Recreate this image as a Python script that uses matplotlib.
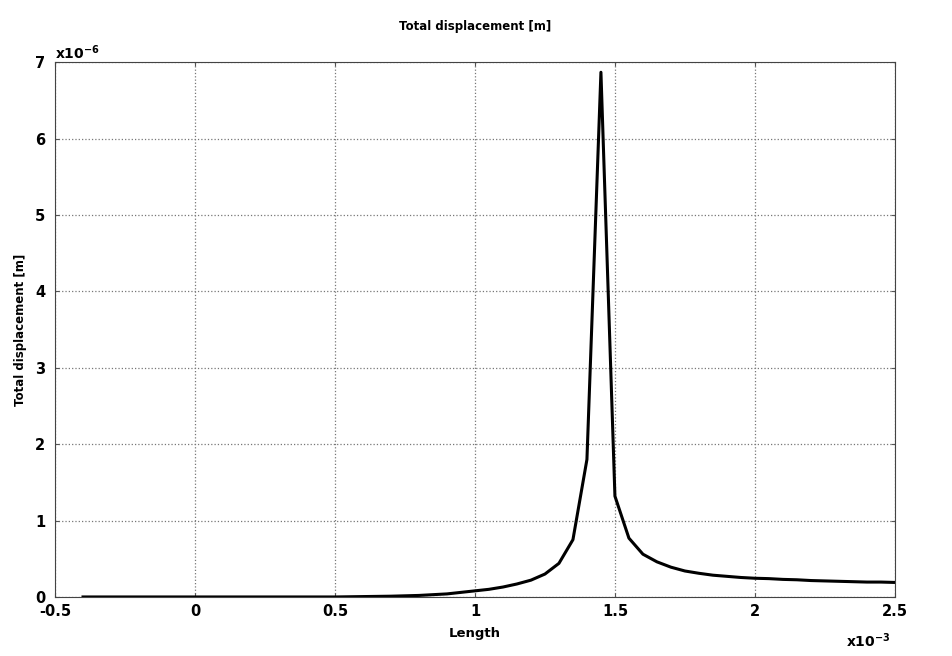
"""
Total displacement along the length (COMSOL-style line plot).
"""

import matplotlib.pyplot as plt
from matplotlib.ticker import FormatStrFormatter

# Length [x1e-3 m]
x = [-0.4, 0.0, 0.5, 0.6, 0.7, 0.8, 0.9, 0.95, 1.0, 1.05, 1.1, 1.15, 1.2, 1.25,
     1.3, 1.35, 1.4, 1.45, 1.5, 1.55, 1.6, 1.65, 1.7, 1.75, 1.8, 1.85, 1.9,
     1.95, 2.0, 2.05, 2.1, 2.15, 2.2, 2.25, 2.3, 2.35, 2.4, 2.45, 2.5]

# Total displacement [x1e-6 m]
y = [0.0, 0.0, 0.0, 0.005, 0.01, 0.02, 0.04, 0.06, 0.08, 0.1, 0.13, 0.17, 0.22,
     0.3, 0.44, 0.75, 1.8, 6.87, 1.32, 0.77, 0.56, 0.46, 0.39, 0.34, 0.31,
     0.285, 0.27, 0.255, 0.245, 0.24, 0.23, 0.225, 0.215, 0.21, 0.205, 0.2,
     0.195, 0.195, 0.19]

xticks = [-0.5, 0, 0.5, 1, 1.5, 2, 2.5]
yticks = [0, 1, 2, 3, 4, 5, 6, 7]

plt.rcParams['font.family'] = 'DejaVu Sans'
plt.rcParams['font.weight'] = 'bold'

fig = plt.figure(figsize=(9.52, 6.56), dpi=100)
ax = fig.add_axes([0.0578, 0.090, 0.8822, 0.815])

ax.plot(x, y, color='black', lw=2.2)

ax.set_xlim(-0.5, 2.5)
ax.set_ylim(0, 7)
ax.set_xticks(xticks)
ax.set_yticks(yticks)
ax.xaxis.set_major_formatter(FormatStrFormatter('%g'))
ax.yaxis.set_major_formatter(FormatStrFormatter('%g'))

ax.grid(True, ls=':', color='#777777', lw=0.9)
ax.tick_params(direction='in', top=True, right=True, length=3,
               labelsize=10.5, color='#555555')
ax.tick_params(axis='x', pad=5)
ax.tick_params(axis='y', pad=7)
for s in ax.spines.values():
    s.set_color('#444444')

ax.set_title('Total displacement [m]', fontsize=8.5, fontweight='bold', pad=23)
ax.set_xlabel('Length', fontsize=9.5, fontweight='bold', labelpad=6)
ax.set_ylabel('Total displacement [m]', fontsize=8.5, fontweight='bold', labelpad=6)

ax.text(0.0, 1.0, r'x10$^{-6}$', transform=ax.transAxes, fontsize=10,
        fontweight='bold', ha='left', va='bottom')
ax.text(0.995, -0.065, r'x10$^{-3}$', transform=ax.transAxes, fontsize=10,
        fontweight='bold', ha='right', va='top')

plt.savefig('out.png', dpi=100)
